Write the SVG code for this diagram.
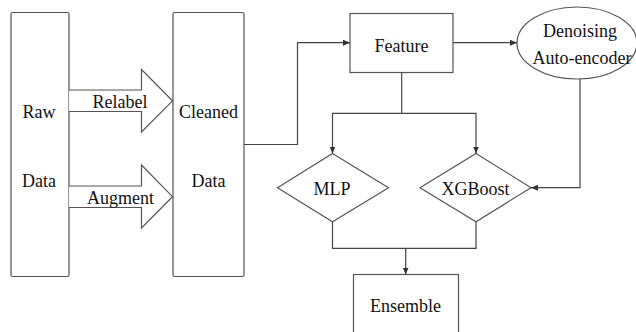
<svg xmlns="http://www.w3.org/2000/svg" width="636" height="332" viewBox="0 0 636 332">
  <defs>
    <marker id="tip" markerWidth="7" markerHeight="6" refX="7" refY="3" orient="auto" markerUnits="userSpaceOnUse">
      <path d="M0,0 L7,3 L0,6 Z" fill="#333"/>
    </marker>
  </defs>
  <style>
    .shape { fill: #fff; stroke: #555; stroke-width: 1.2; }
    .wire { fill: none; stroke: #444; stroke-width: 1.2; }
    .label { font-family: "Liberation Serif", "Times New Roman", serif; font-size: 18px; fill: #111; text-anchor: middle; }
  </style>
  <rect width="636" height="332" fill="#fff"/>

  <g id="raw-data">
    <rect class="shape" x="11" y="12.5" width="58" height="264" rx="1.5"/>
    <text class="label" x="39" y="118">Raw</text>
    <text class="label" x="39" y="187">Data</text>
  </g>

  <g id="relabel">
    <path class="shape" d="M69,90 H141.5 V69.5 L172.5,100.8 L141.5,132 V111.5 H69"/>
    <text class="label" x="120" y="108">Relabel</text>
  </g>

  <g id="augment">
    <path class="shape" d="M69,186 H141.5 V165 L172.5,196.7 L141.5,228 V207.5 H69"/>
    <text class="label" x="120.5" y="204">Augment</text>
  </g>

  <g id="cleaned-data">
    <rect class="shape" x="173" y="12.5" width="71" height="264" rx="1.5"/>
    <text class="label" x="208.5" y="118">Cleaned</text>
    <text class="label" x="208.5" y="187">Data</text>
  </g>

  <g id="feature">
    <rect class="shape" x="350" y="13.5" width="103" height="59"/>
    <text class="label" x="401.5" y="52">Feature</text>
  </g>

  <g id="denoising-autoencoder">
    <ellipse class="shape" cx="577" cy="43" rx="60" ry="36"/>
    <text class="label" x="580" y="37">Denoising</text>
    <text class="label" x="582" y="63.5">Auto-encoder</text>
  </g>

  <g id="mlp">
    <polygon class="shape" points="332.5,153.5 388.5,187.7 332.5,221.7 277.5,187.7"/>
    <text class="label" x="332" y="195">MLP</text>
  </g>

  <g id="xgboost">
    <polygon class="shape" points="476,153.5 531,187.7 476,221.7 420,187.7"/>
    <text class="label" x="475.5" y="195">XGBoost</text>
  </g>

  <g id="ensemble">
    <rect class="shape" x="353.5" y="274.5" width="105" height="70"/>
    <text class="label" x="405.5" y="312">Ensemble</text>
  </g>

  <g id="connectors">
    <path class="wire" d="M244,144.5 H297.5 V42.7 H350" marker-end="url(#tip)"/>
    <path class="wire" d="M453,42.7 H517" marker-end="url(#tip)"/>
    <path class="wire" d="M401.7,72.5 V113.3"/>
    <path class="wire" d="M401.7,113.3 H332.5 V153.5" marker-end="url(#tip)"/>
    <path class="wire" d="M401.7,113.3 H476 V153.5" marker-end="url(#tip)"/>
    <path class="wire" d="M580,79 V187.7 H531" marker-end="url(#tip)"/>
    <path class="wire" d="M332.5,221.7 V248.3 H476 V221.7"/>
    <path class="wire" d="M405.7,248.3 V274.5" marker-end="url(#tip)"/>
  </g>
</svg>
